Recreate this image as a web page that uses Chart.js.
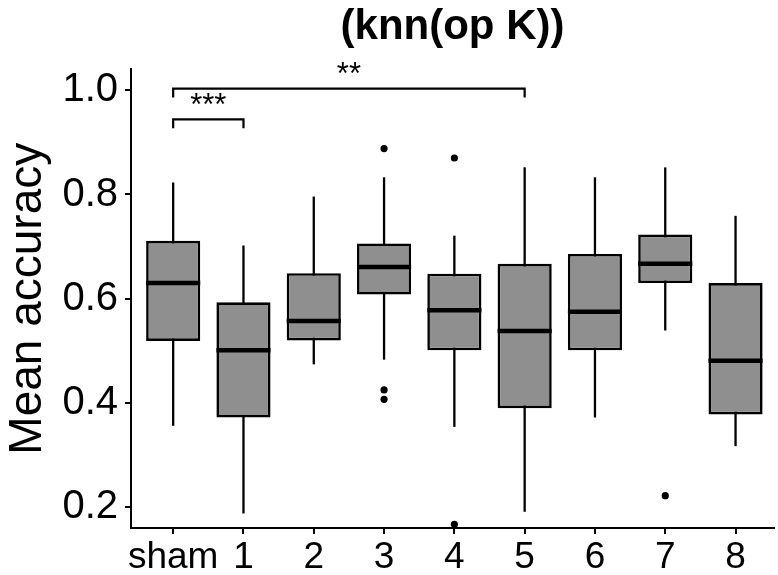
<!DOCTYPE html>
<html>
<head>
<meta charset="utf-8">
<title>(knn(op K))</title>
<script src="https://cdn.jsdelivr.net/npm/chart.js@4.4.1/dist/chart.umd.min.js"></script>
<style>
    html, body { margin: 0; padding: 0; background: #fff; }
    #grafico { display: block; }
</style>
</head>
<body>
<canvas id="grafico" width="778" height="575"></canvas>
<script>
// grupos e estatisticas de cada caixa
const grupos  = ['sham', '1', '2', '3', '4', '5', '6', '7', '8'];
const minimo  = [0.356, 0.188, 0.474, 0.483, 0.354, 0.191, 0.372, 0.539, 0.317];
const q1      = [0.519, 0.372, 0.520, 0.608, 0.501, 0.390, 0.501, 0.630, 0.378];
const mediana = [0.630, 0.501, 0.557, 0.661, 0.578, 0.538, 0.575, 0.667, 0.481];
const q3      = [0.711, 0.593, 0.649, 0.706, 0.648, 0.667, 0.686, 0.723, 0.630];
const maximo  = [0.823, 0.702, 0.796, 0.833, 0.721, 0.852, 0.833, 0.852, 0.759];

// pontos fora dos bigodes (indice do grupo, valor)
const outGrupo = [3, 3, 3, 4, 4, 7];
const outValor = [0.888, 0.425, 0.407, 0.870, 0.167, 0.222];

const yTicks = [0.2, 0.4, 0.6, 0.8, 1.0];

// comparacoes significativas
const sigDe     = [0, 0];
const sigAte    = [1, 5];
const sigAltura = [0.944, 1.003];
const sigTexto  = ['***', '**'];
const sigPerna  = 0.017;

const fonte = "'Liberation Sans', Arial, Helvetica, sans-serif";
Chart.defaults.font.family = fonte;
Chart.defaults.color = '#000';

// bigodes, medianas e colchetes de significancia
const extrasBoxplot = {
    id: 'extrasBoxplot',
    beforeDatasetsDraw(chart) {
        const { ctx, scales: { x, y } } = chart;
        ctx.save();
        ctx.strokeStyle = '#000';
        ctx.lineWidth = 2.3;
        grupos.forEach(function (g, i) {
            const px = x.getPixelForValue(i);
            ctx.beginPath();
            ctx.moveTo(px, y.getPixelForValue(minimo[i]));
            ctx.lineTo(px, y.getPixelForValue(maximo[i]));
            ctx.stroke();
        });
        ctx.restore();
    },
    afterDatasetsDraw(chart) {
        const { ctx, scales: { x, y } } = chart;
        const caixas = chart.getDatasetMeta(0).data;
        ctx.save();
        ctx.strokeStyle = '#000';
        ctx.lineWidth = 4.5;
        caixas.forEach(function (el, i) {
            const py = y.getPixelForValue(mediana[i]);
            ctx.beginPath();
            ctx.moveTo(el.x - el.width / 2, py);
            ctx.lineTo(el.x + el.width / 2, py);
            ctx.stroke();
        });

        ctx.lineWidth = 2.2;
        ctx.font = '31px ' + fonte;
        ctx.fillStyle = '#000';
        ctx.textAlign = 'center';
        ctx.textBaseline = 'middle';
        sigTexto.forEach(function (txt, i) {
            const x0 = x.getPixelForValue(sigDe[i]);
            const x1 = x.getPixelForValue(sigAte[i]);
            const yl = y.getPixelForValue(sigAltura[i]);
            const yp = y.getPixelForValue(sigAltura[i] - sigPerna);
            ctx.beginPath();
            ctx.moveTo(x0, yp);
            ctx.lineTo(x0, yl);
            ctx.lineTo(x1, yl);
            ctx.lineTo(x1, yp);
            ctx.stroke();
            ctx.fillText(txt, (x0 + x1) / 2, yl - 13);
        });
        ctx.restore();
    }
};

const eixoGrade = {
    display: true,
    drawOnChartArea: false,
    drawTicks: true,
    offset: false,
    tickLength: 6,
    color: '#000',
    lineWidth: 2
};
const eixoBorda = { display: true, color: '#000', width: 2 };

const ctx = document.getElementById('grafico');

new Chart(ctx, {
    data: {
        datasets: [{
            type: 'bar',
            label: 'Mean accuracy',
            data: grupos.map(function (g, i) { return { x: i, y: [q1[i], q3[i]] }; }),
            backgroundColor: '#8f8f8f',
            borderColor: '#000',
            borderWidth: 2.6,
            borderSkipped: false,
            categoryPercentage: 0.77,
            barPercentage: 1,
            order: 2
        }, {
            type: 'scatter',
            label: 'outliers',
            data: outGrupo.map(function (g, i) { return { x: g, y: outValor[i] }; }),
            pointRadius: 3.6,
            pointBackgroundColor: '#000',
            pointBorderWidth: 0,
            order: 1
        }]
    },
    options: {
        responsive: false,
        animation: false,
        devicePixelRatio: 1,
        layout: { padding: 0 },
        plugins: {
            legend: { display: false },
            tooltip: { enabled: false },
            title: {
                display: true,
                text: '(knn(op K))',
                fullSize: false,
                color: '#000',
                font: { size: 42, weight: 'bold' },
                padding: { top: 2, bottom: 17 }
            }
        },
        scales: {
            x: {
                type: 'linear',
                offset: false,
                min: -0.6,
                max: 8.547,
                afterBuildTicks: function (scale) {
                    scale.ticks = grupos.map(function (g, i) { return { value: i }; });
                },
                afterFit: function (scale) { scale.height = 47; },
                ticks: {
                    callback: function (v) { return grupos[v]; },
                    font: { size: 37 },
                    color: '#000',
                    padding: 2,
                    maxRotation: 0,
                    autoSkip: false
                },
                grid: eixoGrade,
                border: eixoBorda
            },
            y: {
                min: 0.16,
                max: 1.04,
                afterBuildTicks: function (scale) {
                    scale.ticks = yTicks.map(function (v) { return { value: v }; });
                },
                afterFit: function (scale) { scale.width = 131; },
                ticks: {
                    callback: function (v) { return v.toFixed(1); },
                    font: { size: 40 },
                    color: '#000',
                    padding: 7
                },
                title: {
                    display: true,
                    text: 'Mean accuracy',
                    color: '#000',
                    font: { size: 46 },
                    padding: { top: 1, bottom: 0 }
                },
                grid: eixoGrade,
                border: eixoBorda
            }
        }
    },
    plugins: [extrasBoxplot]
});
</script>
</body>
</html>
